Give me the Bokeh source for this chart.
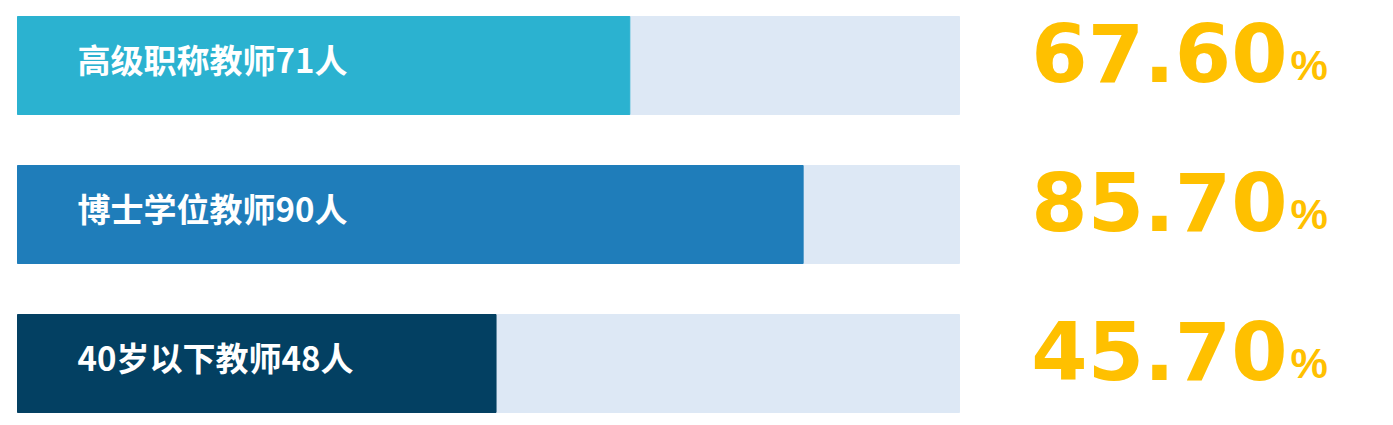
from bokeh.plotting import figure
from bokeh.models import Range1d, ColumnDataSource
from bokeh.core.properties import value
from bokeh.embed import file_html
from bokeh.resources import INLINE

# data
labels = ["高级职称教师71人", "博士学位教师90人", "40岁以下教师48人"]
percents = ["67.60", "85.70", "45.70"]
fill_values = [65.0, 83.4, 50.8]   # filled length of each bar (out of 100)
full_value = 100
bar_colors = ["#2BB2D0", "#1F7DBA", "#034062"]
rows = [0, 1, 2]

W, H = 1385, 417
px_per_x = 942 / 100
px_per_row = 149
left_pad = 17
top_center = 65

p = figure(width=W, height=H, output_backend="svg", toolbar_location=None,
           x_range=Range1d(-left_pad / px_per_x, (W - left_pad) / px_per_x),
           y_range=Range1d((H - top_center) / px_per_row, -top_center / px_per_row),
           min_border=0, outline_line_color=None)
p.axis.visible = False
p.grid.visible = False
p.background_fill_color = "white"
p.border_fill_color = "white"

src = ColumnDataSource(dict(y=rows, full=[full_value] * 3, fill=fill_values,
                            color=bar_colors, label=labels, pct=percents,
                            pctsign=["%"] * 3))
bh = 98 / px_per_row
p.hbar(y="y", left=0, right="full", height=bh, color="#DDE8F5", source=src)
p.hbar(y="y", left=0, right="fill", height=bh, color="color", source=src)

p.text(x=0, y="y", text="label", source=src, x_offset=60, y_offset=-7,
       text_baseline="middle", text_align="left", text_color="white",
       text_font=value("Noto Sans CJK SC"), text_font_style="bold",
       text_font_size="33px")

p.text(x=full_value, y="y", text="pct", source=src, x_offset=328, y_offset=-13,
       text_baseline="middle", text_align="right", text_color="#FFC000",
       text_font=value("DejaVu Sans"), text_font_style="bold",
       text_font_size="81px")
p.text(x=full_value, y="y", text="pctsign", source=src, x_offset=331, y_offset=0,
       text_baseline="middle", text_align="left", text_color="#FFC000",
       text_font=value("Liberation Sans"), text_font_style="bold",
       text_font_size="42px")

open("out.html", "w").write(file_html(p, INLINE))
